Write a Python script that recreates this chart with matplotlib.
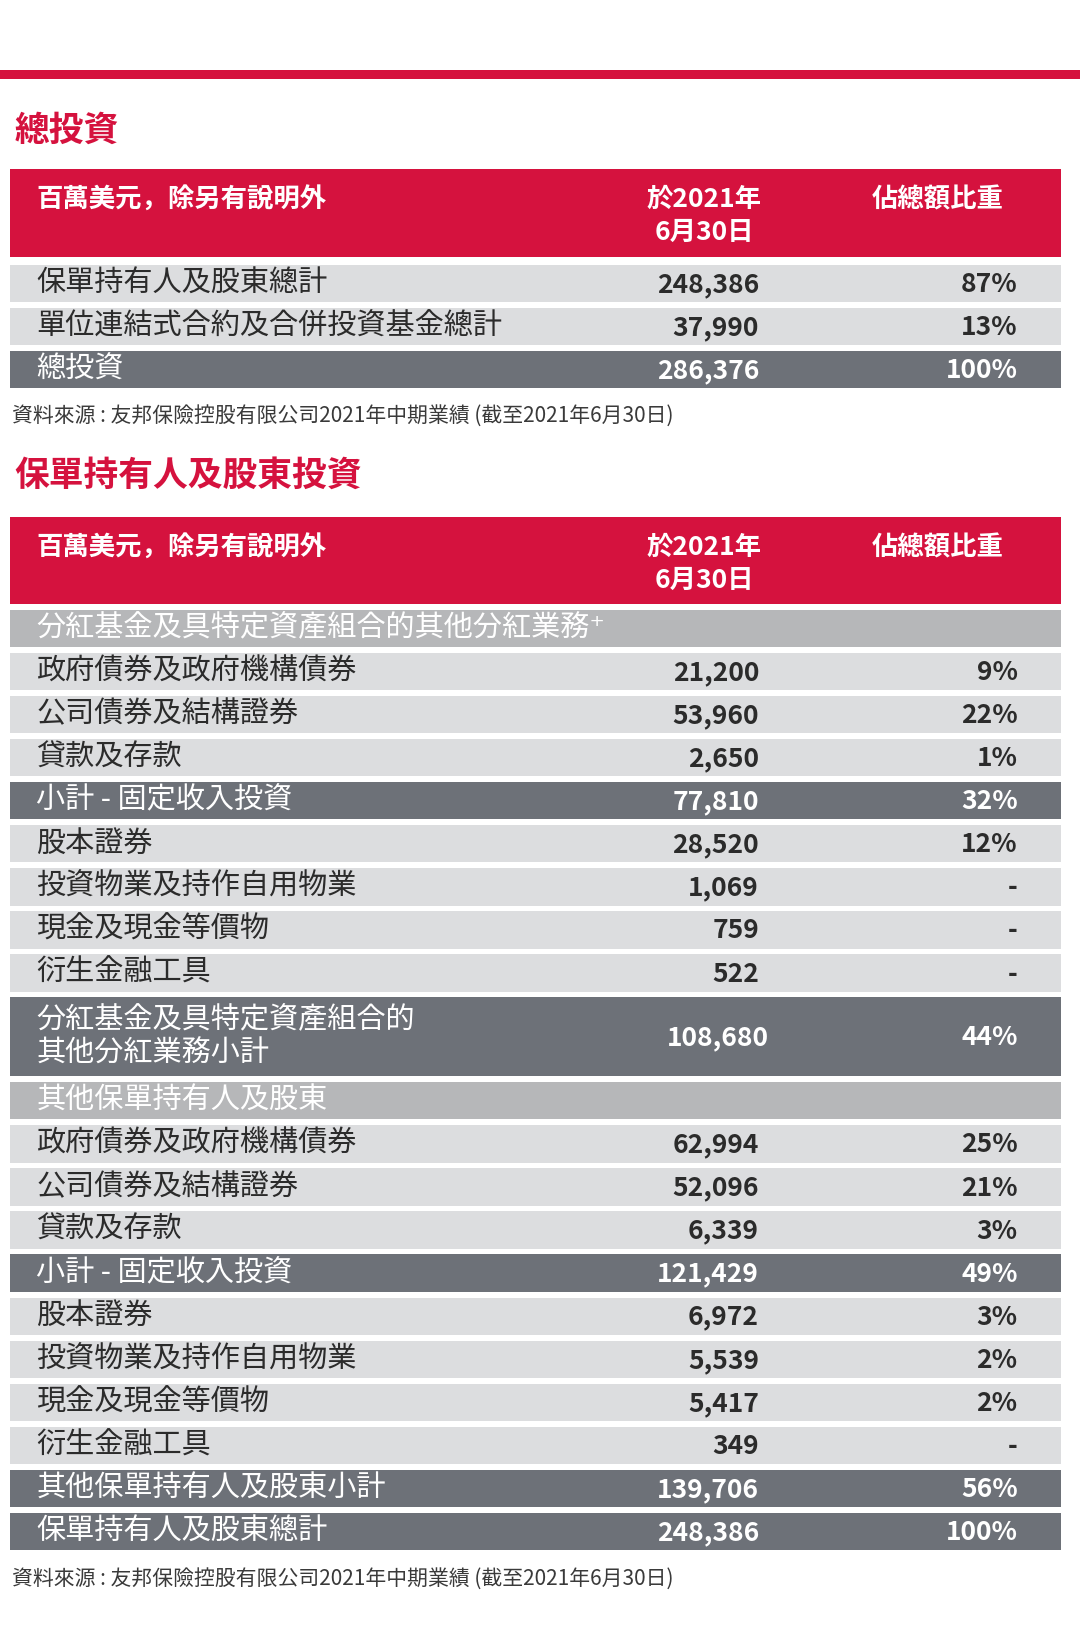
import matplotlib
matplotlib.use("Agg")
import matplotlib.pyplot as plt
from matplotlib.patches import Rectangle

plt.rcParams["font.family"] = ["Noto Sans CJK JP", "Noto Sans CJK TC", "Noto Sans CJK SC", "DejaVu Sans"]

RED = "#d5123e"; LIGHT = "#dcdddf"; MID = "#b6b7b9"; DARK = "#6d7178"; TXT = "#2b2b2b"

title1 = "總投資"
title2 = "保單持有人及股東投資"
head_label = "百萬美元，除另有說明外"
head_date = "於2021年\n6月30日"
head_pct = "佔總額比重"
source = "資料來源 : 友邦保險控股有限公司2021年中期業績 (截至2021年6月30日)"

t1_labels = ["保單持有人及股東總計", "單位連結式合約及合併投資基金總計", "總投資"]
t1_values = ["248,386", "37,990", "286,376"]
t1_pcts = ["87%", "13%", "100%"]
t1_kind = ["L", "L", "D"]

t2_labels = ["分紅基金及具特定資產組合的其他分紅業務⁺", "政府債券及政府機構債券", "公司債券及結構證券", "貸款及存款",
             "小計 - 固定收入投資", "股本證券", "投資物業及持作自用物業", "現金及現金等價物", "衍生金融工具",
             "分紅基金及具特定資產組合的\n其他分紅業務小計", "其他保單持有人及股東", "政府債券及政府機構債券",
             "公司債券及結構證券", "貸款及存款", "小計 - 固定收入投資", "股本證券", "投資物業及持作自用物業",
             "現金及現金等價物", "衍生金融工具", "其他保單持有人及股東小計", "保單持有人及股東總計"]
t2_values = ["", "21,200", "53,960", "2,650", "77,810", "28,520", "1,069", "759", "522", "108,680", "",
             "62,994", "52,096", "6,339", "121,429", "6,972", "5,539", "5,417", "349", "139,706", "248,386"]
t2_pcts = ["", "9%", "22%", "1%", "32%", "12%", "-", "-", "-", "44%", "",
           "25%", "21%", "3%", "49%", "3%", "2%", "2%", "-", "56%", "100%"]
t2_kind = ["S", "L", "L", "L", "D", "L", "L", "L", "L", "D2", "S",
           "L", "L", "L", "D", "L", "L", "L", "L", "D", "D"]

W, H = 1040, 1632 * 1040 / 1080
fig = plt.figure(figsize=(10.8, 16.32), dpi=100)
ax = fig.add_axes([0, 0, 1, 1])
ax.set_xlim(0, W); ax.set_ylim(H, 0); ax.axis("off")

ax.add_patch(Rectangle((0, 67), W, 9, color=RED, lw=0))

def header(y0):
    ax.add_patch(Rectangle((10, y0), 1012, 84, color=RED, lw=0))
    ax.text(35, y0 + 30, head_label, color="white", fontsize=19, fontweight="bold", va="center")
    ax.text(678, y0 + 45, head_date, color="white", fontsize=19, fontweight="bold", va="center",
            ha="center", linespacing=1.3)
    ax.text(903, y0 + 30, head_pct, color="white", fontsize=19, fontweight="bold", va="center", ha="center")

def rows(y0, labels, values, pcts, kinds):
    y = y0
    for lab, v, p, k in zip(labels, values, pcts, kinds):
        h = 76 if k == "D2" else 36
        col = {"L": LIGHT, "S": MID, "D": DARK, "D2": DARK}[k]
        tc = TXT if k == "L" else "white"
        ax.add_patch(Rectangle((10, y), 1012, h, color=col, lw=0))
        cy = y + h / 2
        ax.text(35, cy, lab, color=tc, fontsize=21, va="center", linespacing=1.15)
        vx = 740 if k == "D2" else 731
        ax.text(vx, cy + 1, v, color=tc, fontsize=19, fontweight="bold", va="center", ha="right")
        ax.text(980, cy + 1, p, color=tc, fontsize=19, fontweight="bold", va="center", ha="right")
        y += h + 5.5
    return y

ax.text(14, 125, title1, color=RED, fontsize=25, fontweight="bold", va="center")
header(163)
rows(255, t1_labels, t1_values, t1_pcts, t1_kind)
ax.text(12, 400, source, color="#3a3a3a", fontsize=15, va="center")

ax.text(14, 458, title2, color=RED, fontsize=25, fontweight="bold", va="center")
header(498)
rows(587, t2_labels, t2_values, t2_pcts, t2_kind)
ax.text(12, 1520, source, color="#3a3a3a", fontsize=15, va="center")

fig.savefig("out.png", dpi=100, facecolor="white")
